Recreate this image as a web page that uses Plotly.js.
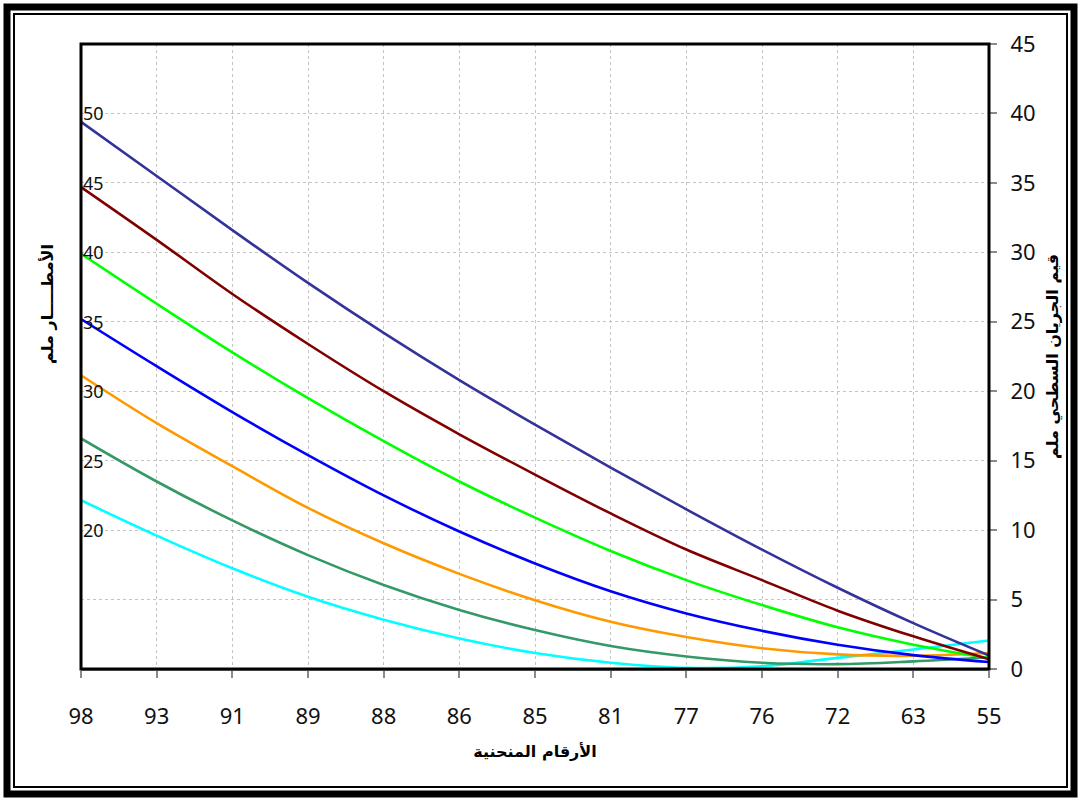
<!DOCTYPE html>
<html>
<head>
<meta charset="utf-8">
<script src="https://cdn.plot.ly/plotly-3.0.1.min.js"></script>
<style>
  html, body { margin: 0; padding: 0; background: #fff; }
  #chart { width: 1081px; height: 801px; }
</style>
</head>
<body>
<div id="chart"></div>
<script>
// Curve numbers (x categories)
const curveNumbers = ['98', '93', '91', '89', '88', '86', '85', '81', '77', '76', '72', '63', '55'];

// Rainfall levels (mm) – one series per level
const rainfall = [20, 25, 30, 35, 40, 45, 50];

// Runoff values (mm), per rainfall level
const runoff20 = [12.15, 9.6, 7.25, 5.2, 3.55, 2.2, 1.15, 0.45, 0.08, 0.2, 0.8, 1.4, 2.05];
const runoff25 = [16.6, 13.5, 10.7, 8.2, 6.05, 4.25, 2.8, 1.65, 0.9, 0.45, 0.35, 0.55, 0.85];
const runoff30 = [21.15, 17.7, 14.6, 11.6, 9.05, 6.85, 4.95, 3.4, 2.3, 1.5, 1.05, 0.95, 1.15];
const runoff35 = [25.2, 21.8, 18.5, 15.4, 12.5, 9.9, 7.6, 5.6, 4.0, 2.75, 1.75, 1.0, 0.5];
const runoff40 = [29.9, 26.3, 22.8, 19.5, 16.4, 13.5, 10.9, 8.5, 6.4, 4.6, 3.0, 1.75, 0.78];
const runoff45 = [34.7, 30.9, 27.0, 23.4, 20.0, 16.9, 14.0, 11.2, 8.6, 6.4, 4.2, 2.35, 0.7];
const runoff50 = [39.4, 35.5, 31.6, 27.8, 24.2, 20.8, 17.6, 14.5, 11.5, 8.6, 5.85, 3.3, 0.97];

const seriesValues = [runoff20, runoff25, runoff30, runoff35, runoff40, runoff45, runoff50];
const seriesColors = ['#00FFFF', '#339966', '#FF9900', '#0000FF', '#00FF00', '#800000', '#333399'];

// Titles
const xTitle = 'الأرقام المنحنية';
const yRightTitle = 'قيم الجريان السطحي ملم';
const yLeftTitle = 'الأمطـــــار ملم';

const W = 1081, H = 801;
const M = { l: 81, r: 92, t: 44, b: 132 };
const PW = W - M.l - M.r, PH = H - M.t - M.b;
const px = v => (v - M.l) / PW;
const py = v => (H - M.b - v) / PH;

const traces = seriesValues.map((vals, i) => ({
  type: 'scatter',
  mode: 'lines',
  x: curveNumbers,
  y: vals,
  name: String(rainfall[i]),
  line: { color: seriesColors[i], width: 2.6, shape: 'spline', smoothing: 1 },
  hoverinfo: 'x+y+name'
}));

// invisible trace so the left (rainfall) axis exists
traces.push({
  type: 'scatter', mode: 'markers', x: [curveNumbers[0]], y: [rainfall[0]],
  yaxis: 'y2', marker: { opacity: 0 }, hoverinfo: 'skip', showlegend: false
});

const numFont = 'Noto Sans, Open Sans, Arial, sans-serif';
const arFont = 'DejaVu Sans, sans-serif';

// rainfall labels on the left (rainfall) axis, drawn inside the plot
// (category axes take the category's serial number)
const firstCat = curveNumbers.indexOf('98');
const rainLabels = rainfall.map(r => ({
  xref: 'x', yref: 'y2', x: firstCat, y: r,
  text: String(r), showarrow: false, xanchor: 'left', yanchor: 'middle', xshift: 0,
  font: { family: numFont, size: 18, color: '#111' }
}));

const layout = {
  width: W, height: H,
  margin: M,
  paper_bgcolor: '#ffffff',
  plot_bgcolor: '#ffffff',
  showlegend: false,
  xaxis: {
    type: 'category',
    range: [0, curveNumbers.length - 1],
    ticks: 'outside', ticklen: 7, tickwidth: 2, tickcolor: '#8a8a8a',
    showline: true, linecolor: '#8a8a8a', linewidth: 2,
    showgrid: true, gridcolor: '#c4c4c4', griddash: 'dot', gridwidth: 1,
    tickfont: { family: numFont, size: 22, color: '#111' },
    ticklabelstandoff: 20,
    title: { text: xTitle, font: { family: arFont, size: 16, color: '#000', weight: 'bold' }, standoff: 16 },
    fixedrange: true
  },
  yaxis: {
    side: 'right',
    range: [0, 45], dtick: 5,
    ticks: 'outside', ticklen: 7, tickwidth: 2, tickcolor: '#8a8a8a',
    showline: false, zeroline: false,
    showgrid: true, gridcolor: '#c4c4c4', griddash: 'dot', gridwidth: 1,
    tickfont: { family: numFont, size: 22, color: '#111' },
    ticklabelstandoff: 9,
    title: { text: yRightTitle, font: { family: arFont, size: 16, color: '#000', weight: 'bold' }, standoff: 12 },
    fixedrange: true
  },
  yaxis2: {
    overlaying: 'y', side: 'left',
    range: [10, 55],
    showticklabels: false,
    ticks: '', showgrid: false, zeroline: false, showline: false,
    fixedrange: true
  },
  annotations: rainLabels.concat([{
    xref: 'paper', yref: 'paper', x: px(47), y: py(304),
    text: yLeftTitle, textangle: -90, showarrow: false,
    xanchor: 'center', yanchor: 'middle',
    font: { family: arFont, size: 16, color: '#000', weight: 'bold' }
  }]),
  shapes: [
    // plot-area frame
    { type: 'rect', xref: 'paper', yref: 'paper', x0: 0, x1: 1, y0: 0, y1: 1,
      line: { color: '#000', width: 3 }, fillcolor: 'rgba(0,0,0,0)', layer: 'above' },
    // outer thick frame
    { type: 'rect', xref: 'paper', yref: 'paper', x0: px(7), x1: px(1074), y0: py(7), y1: py(794),
      line: { color: '#000', width: 7 }, fillcolor: 'rgba(0,0,0,0)', layer: 'above' },
    // inner thin frame
    { type: 'rect', xref: 'paper', yref: 'paper', x0: px(14), x1: px(1067), y0: py(14), y1: py(787),
      line: { color: '#000', width: 2 }, fillcolor: 'rgba(0,0,0,0)', layer: 'above' }
  ]
};

Plotly.newPlot('chart', traces, layout, { displayModeBar: false, staticPlot: true });
</script>
</body>
</html>
